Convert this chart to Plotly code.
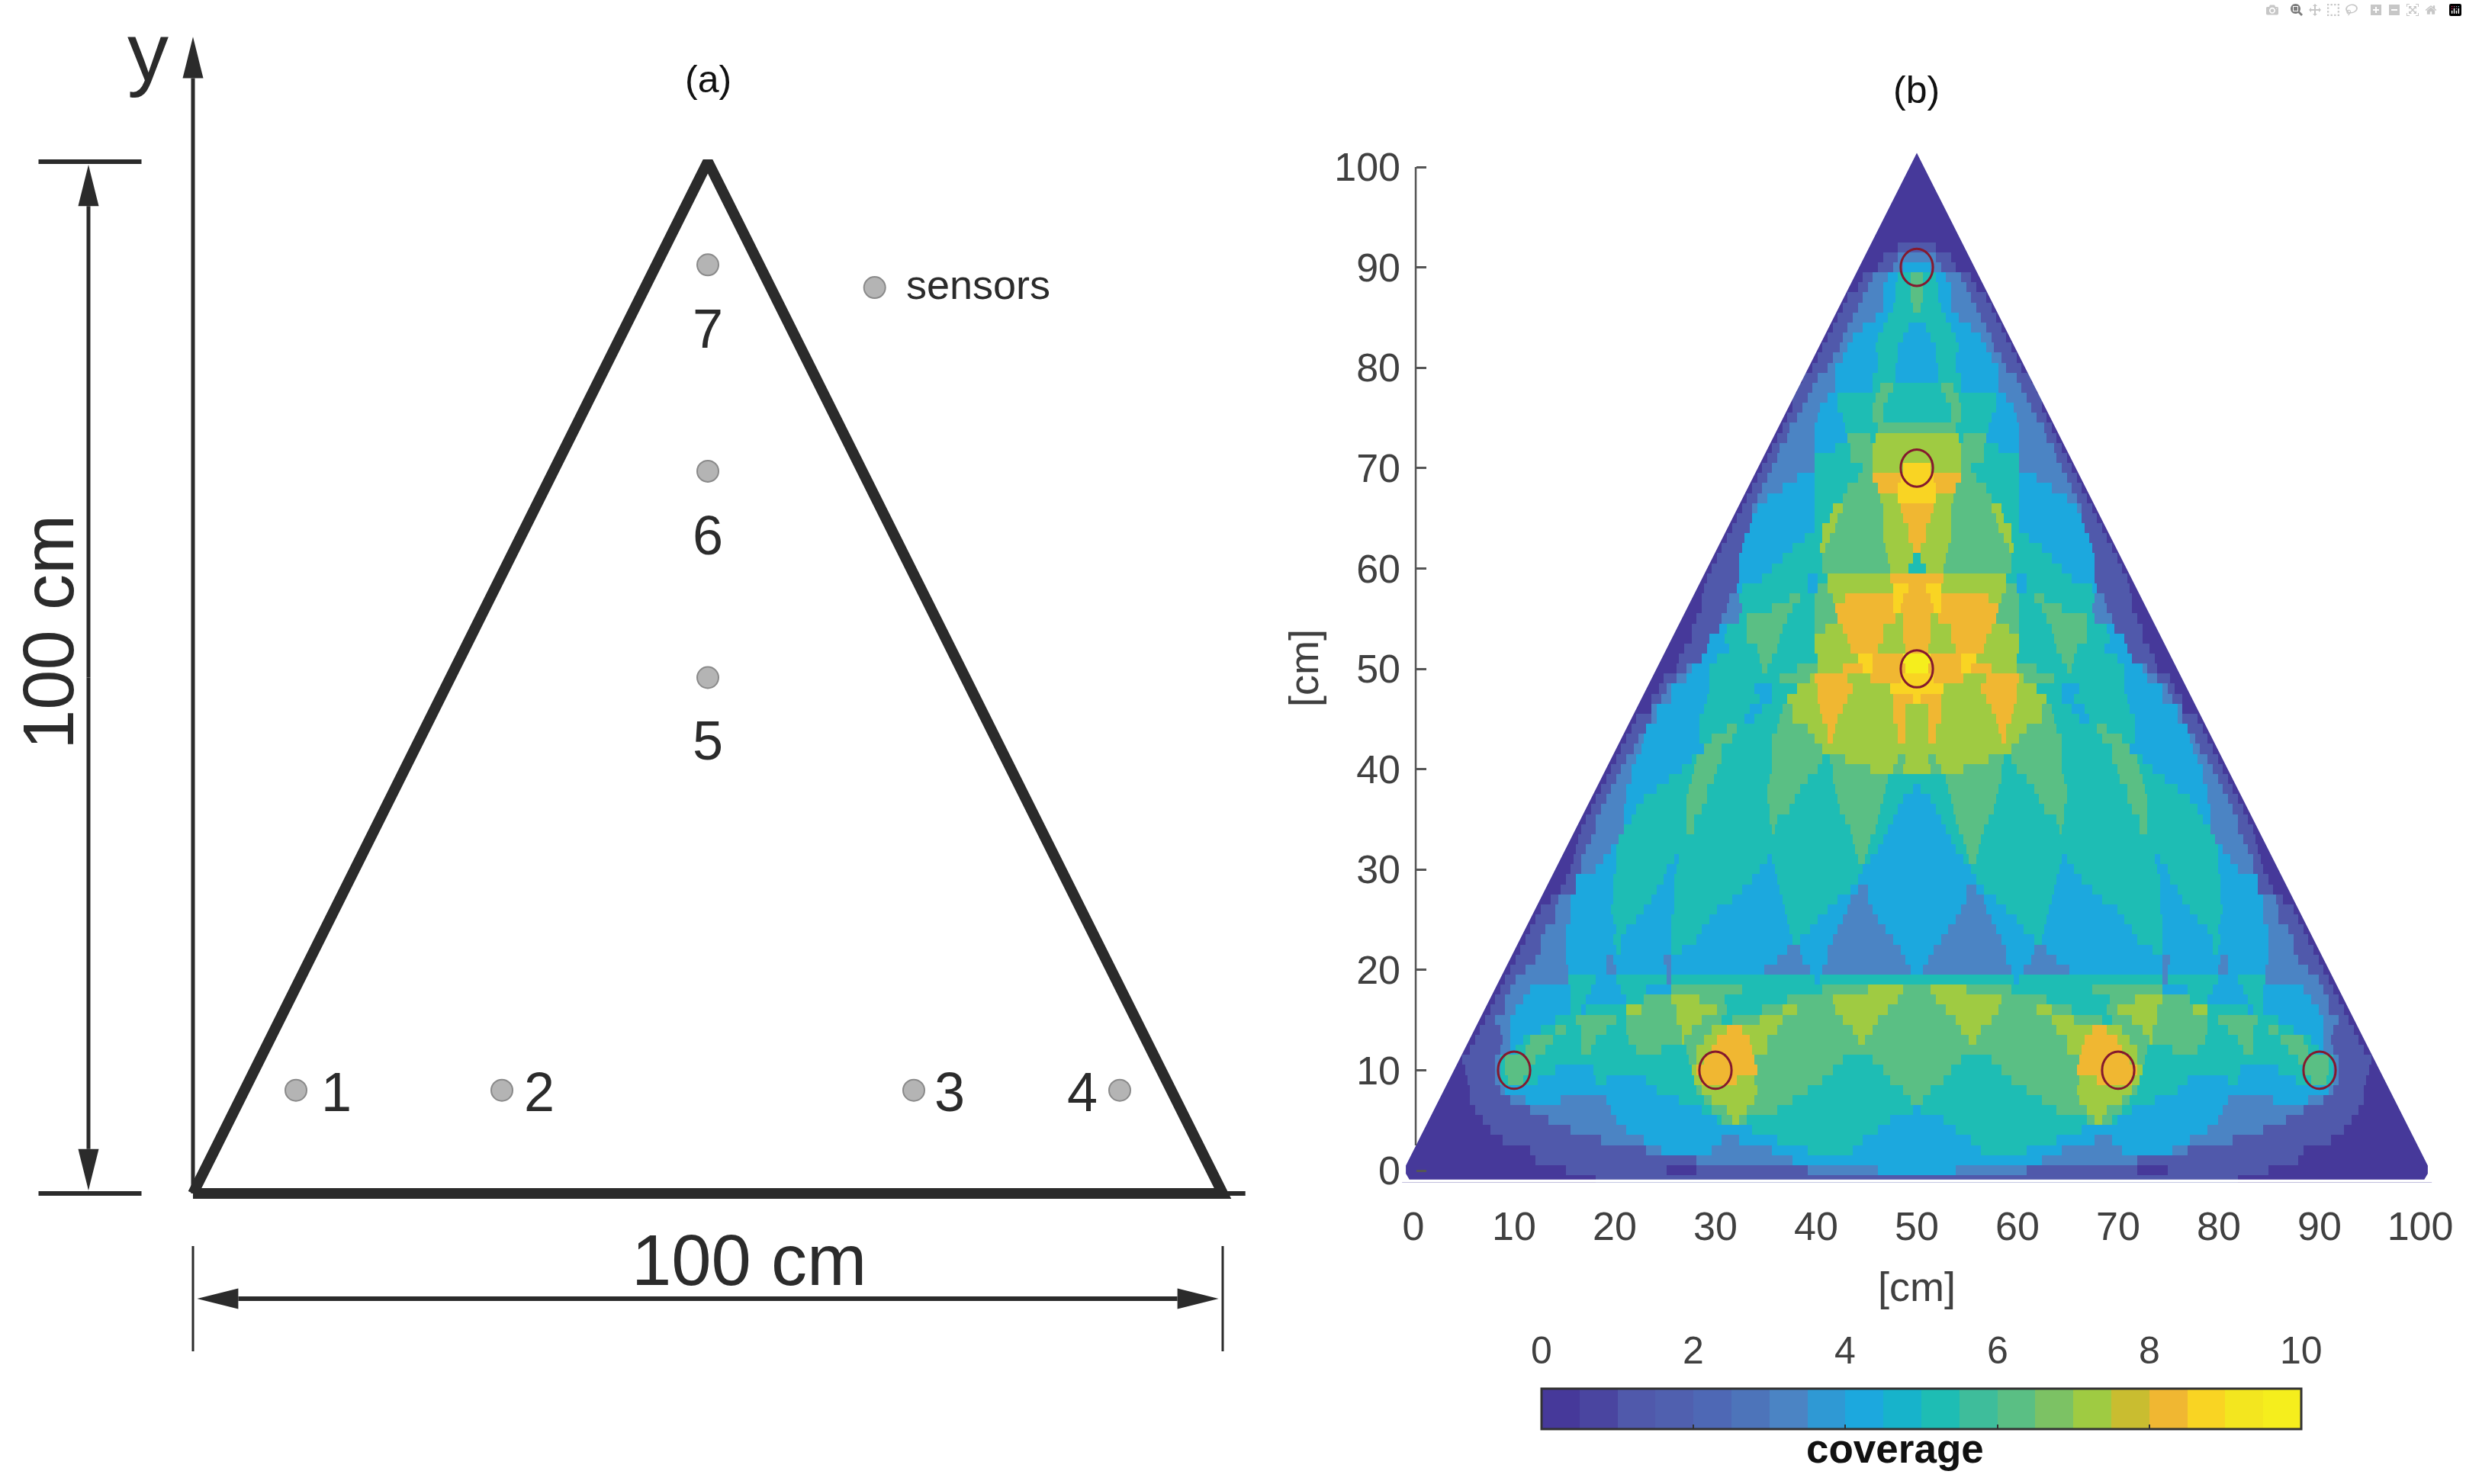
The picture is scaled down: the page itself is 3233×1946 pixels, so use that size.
import plotly.graph_objects as go

W, H = 3233, 1946
SANS = "Liberation Sans, Arial"
INK = "#2b2b2b"

# (a) sensor layout, cm
sensor_x = [10, 30, 70, 90, 50, 50, 50]
sensor_y = [10, 10, 10, 10, 50, 70, 90]
label_x = [13.9, 33.6, 73.5, 86.4, 50, 50, 50]
label_y = [9.8, 9.8, 9.8, 9.8, 43.9, 63.8, 83.8]
label_text = ["1", "2", "3", "4", "5", "6", "7"]
plate_x = [0, 50, 100, 0]
plate_y = [0, 100, 0, 0]

# (b) coverage map for the left half
# (it is mirror symmetric): each row is (x where the run ends, colour band)
cover_y = list(range(-1, 102))
cover_runs = [
    [(18, 0), (50, 1)],
    [(15, 0), (25, 1), (28, 0), (39, 1), (46, 2), (50, 3)],
    [(12, 0), (28, 1), (37.7, 2), (50, 3)],
    [(11.5, 0), (23, 1), (24.5, 2), (29.5, 3), (35.5, 2), (39, 3), (43.5, 4), (50, 3)],
    [(8.8, 0), (18.7, 1), (22.9, 2), (30.5, 3), (32.4, 2), (36.2, 3), (44.5, 4), (50, 3)],
    [(7.5, 0), (15.5, 1), (21, 2), (33.5, 3), (46, 4), (50, 3)],
    [(6.8, 0), (13.4, 1), (20.2, 2), (30, 3), (30.7, 4), (31.5, 5), (32.4, 6), (33, 5), (47.4, 4), (50, 3)],
    [(6, 0), (11.5, 1), (19.5, 2), (28.5, 3), (29.5, 4), (31, 5), (33, 6), (36, 5), (49.5, 4), (50, 3)],
    [(5.7, 0), (9.7, 1), (11, 2), (14.6, 3), (19, 2), (26.3, 3), (28.8, 4), (29.6, 5), (33.8, 6), (37.7, 5), (49.4, 4), (50, 5)],
    [(5.5, 0), (8.5, 1), (9, 2), (24, 3), (28, 4), (28.5, 5), (34, 6), (39, 5), (48.5, 4), (50, 5)],
    [(5.3, 0), (8.2, 1), (8.5, 2), (9.4, 4), (10.9, 5), (12.4, 4), (18.2, 3), (19, 4), (23.2, 3), (27.8, 4), (28.5, 6), (32.1, 7), (33.8, 6), (40.5, 5), (47.4, 4), (50, 5)],
    [(5, 0), (8, 1), (8.5, 2), (9, 4), (11.5, 5), (14, 4), (17.8, 3), (27.5, 4), (28, 6), (34, 7), (41.7, 5), (46.5, 4), (50, 5)],
    [(4.9, 0), (8.1, 1), (8.6, 2), (9, 4), (12.1, 5), (27.3, 4), (28, 5), (28.8, 6), (33.8, 7), (42.6, 5), (45.5, 4), (50, 5)],
    [(5.5, 0), (8.7, 1), (9.7, 2), (10.2, 3), (11, 4), (13, 5), (16.5, 4), (17.5, 5), (22, 4), (24.5, 5), (27, 4), (28, 5), (29.5, 6), (33.5, 7), (35, 6), (50, 5)],
    [(6, 0), (8.8, 1), (9.6, 2), (10.9, 3), (11.6, 4), (13.9, 5), (16.5, 4), (18.2, 5), (21.3, 4), (26.5, 5), (26.8, 6), (28.8, 5), (30, 6), (33.4, 7), (35.2, 6), (44, 5), (44.8, 6), (50, 5)],
    [(6.5, 0), (8.7, 1), (9.5, 2), (12.5, 3), (14, 4), (15, 5), (16.5, 4), (19, 5), (21, 4), (26.5, 5), (27.5, 6), (29.5, 5), (31, 6), (32.5, 7), (36, 6), (43.5, 5), (45.5, 6), (50, 5)],
    [(7, 0), (8, 1), (9.7, 2), (14.2, 3), (16.2, 4), (20.2, 5), (21, 4), (26.2, 5), (28.6, 6), (30.5, 5), (31.5, 4), (34.4, 5), (36.6, 6), (42.5, 5), (46, 6), (50, 5)],
    [(7.5, 0), (9, 1), (10, 2), (15.5, 3), (16.5, 4), (17, 3), (21, 4), (22.5, 6), (26, 5), (30, 6), (31, 5), (34.5, 4), (36.5, 5), (38, 6), (41.8, 5), (47, 6), (50, 5)],
    [(8, 0), (9, 1), (10.9, 2), (15.5, 3), (17, 4), (21.2, 3), (22.8, 4), (25.7, 5), (28.3, 6), (30.9, 5), (37, 4), (41.5, 5), (48, 6), (50, 5)],
    [(8.5, 0), (9.5, 1), (11.5, 2), (15.5, 3), (17.5, 4), (20.5, 3), (23, 4), (25.5, 3), (32.5, 5), (40.5, 4), (45, 5), (48.5, 6), (50, 5)],
    [(9, 0), (10, 1), (15.3, 2), (18.2, 4), (20.1, 3), (25, 4), (25.7, 2), (39.8, 4), (40.3, 3), (50, 4)],
    [(9.5, 0), (11, 1), (15.3, 2), (19, 3), (20, 2), (25, 3), (25.7, 2), (34.9, 3), (39.3, 2), (40.5, 3), (49.3, 2), (50, 3)],
    [(10, 0), (12, 1), (15.2, 2), (19.2, 3), (19.8, 2), (24.8, 3), (25.7, 2), (36, 3), (38.7, 2), (41, 3), (48.8, 2), (50, 3)],
    [(10.5, 0), (12.5, 1), (15.2, 2), (20, 3), (20.5, 4), (25.5, 3), (26.5, 4), (37.2, 3), (38.3, 2), (41.2, 3), (48.3, 2), (50, 3)],
    [(11, 0), (12.5, 1), (15.2, 2), (19.8, 3), (20.7, 4), (25.5, 3), (28, 4), (37.6, 3), (38.3, 4), (41.7, 3), (47.7, 2), (50, 3)],
    [(11.5, 0), (13, 1), (15.2, 2), (20, 3), (21, 4), (25.7, 3), (28.7, 4), (37.3, 3), (39.4, 4), (42, 3), (46.8, 2), (50, 3)],
    [(12, 0), (14, 1), (15.5, 2), (19.8, 3), (22.1, 4), (25.7, 3), (29.4, 4), (37, 3), (40.1, 4), (42.6, 3), (46.2, 2), (50, 3)],
    [(12.5, 0), (14, 1), (15.5, 2), (19.7, 3), (22.9, 4), (25.8, 3), (30.2, 4), (36.8, 3), (41.2, 4), (43, 3), (45.6, 2), (50, 3)],
    [(13.5, 0), (14.4, 1), (15.7, 2), (19.8, 3), (23.7, 4), (25.8, 3), (31.5, 4), (36.5, 3), (42.2, 4), (43.4, 3), (45.1, 2), (50, 3)],
    [(14.5, 0), (16, 1), (19.9, 3), (24.2, 4), (25.9, 3), (32.6, 4), (36.4, 3), (43.3, 4), (44, 3), (45, 2), (50, 3)],
    [(15, 0), (16.2, 1), (19.9, 3), (24.9, 4), (25.9, 3), (33.5, 4), (36.1, 3), (44.2, 4), (50, 3)],
    [(15.5, 0), (16.6, 1), (18, 2), (20, 3), (25.1, 4), (26, 3), (34.4, 4), (35.8, 3), (44.6, 4), (50, 3)],
    [(15.8, 0), (16.5, 1), (18.9, 2), (20.2, 3), (25.8, 4), (26.3, 3), (35, 4), (35.6, 3), (44.2, 4), (44.8, 5), (45.4, 4), (50, 3)],
    [(16, 0), (17, 1), (19.6, 2), (20.2, 3), (43.8, 4), (45.2, 5), (46, 4), (50, 3)],
    [(16.3, 0), (17.5, 1), (20.4, 2), (43.6, 4), (45.4, 5), (46.7, 4), (50, 3)],
    [(16.5, 0), (18, 1), (20.8, 2), (27.2, 4), (27.8, 5), (35.5, 4), (35.8, 5), (43.3, 4), (45.9, 5), (47.2, 4), (50, 3)],
    [(17, 0), (18.2, 1), (20.8, 2), (21.6, 3), (27, 4), (27.9, 5), (35.3, 4), (36.2, 5), (42.9, 4), (46.2, 5), (47.6, 4), (50, 3)],
    [(17.5, 0), (18.5, 1), (20.8, 2), (22.1, 3), (27.1, 4), (28.7, 5), (35.3, 4), (37.3, 5), (42.4, 4), (46.4, 5), (48, 4), (50, 3)],
    [(18, 0), (19, 1), (21.1, 2), (22.9, 3), (27.2, 4), (29, 5), (35.2, 4), (37.8, 5), (42.1, 4), (46.7, 5), (48.5, 4), (50, 3)],
    [(18.5, 0), (19.5, 1), (21.2, 2), (24, 3), (27.4, 4), (29.2, 5), (35.2, 4), (38.3, 5), (41.8, 4), (46.9, 5), (49.5, 4), (50, 3)],
    [(19, 0), (20, 1), (21.5, 2), (25.3, 3), (27.6, 4), (29.8, 5), (35.3, 4), (39.1, 5), (41.6, 4), (47.2, 5), (50, 4)],
    [(19.5, 0), (20.6, 1), (21.7, 2), (26.6, 3), (27.9, 4), (30.2, 5), (35.6, 4), (40.1, 5), (41.6, 4), (45.4, 5), (47.6, 6), (48.5, 5), (50, 6)],
    [(20, 0), (21.2, 1), (22.1, 2), (27.6, 3), (28.1, 4), (30.5, 5), (35.6, 4), (40.5, 5), (41.3, 4), (42.8, 5), (48, 6), (48.8, 5), (50, 6)],
    [(20.5, 0), (21.9, 1), (22.5, 2), (28.8, 3), (30.7, 5), (35.7, 4), (40.7, 5), (50, 6)],
    [(21, 0), (22.4, 1), (22.8, 2), (28.3, 3), (29.7, 4), (31.7, 5), (35.7, 4), (39.9, 5), (41, 6), (41.6, 7), (48.2, 6), (48.8, 7), (50, 6)],
    [(21.5, 0), (23, 1), (28.3, 3), (31, 4), (32.2, 5), (36, 4), (39.1, 5), (41, 6), (41.8, 7), (48, 6), (48.8, 7), (50, 6)],
    [(22, 0), (23.5, 1), (24, 2), (28.4, 3), (32.8, 4), (33.8, 3), (36.3, 4), (37.7, 5), (40.7, 6), (42.2, 7), (47.7, 6), (48.8, 7), (50, 6)],
    [(23.5, 0), (24.2, 2), (28.8, 3), (33.4, 4), (34.7, 3), (36.6, 4), (37.7, 5), (40.4, 6), (42.6, 7), (47.5, 6), (48.8, 7), (50, 6)],
    [(23.5, 0), (24.7, 1), (25.5, 2), (29, 3), (34.3, 4), (35.7, 3), (37, 4), (40.2, 6), (43, 7), (47.5, 6), (49.6, 7), (50, 8)],
    [(24.3, 0), (25, 1), (25.5, 2), (29.3, 3), (33.9, 4), (35.7, 3), (38, 4), (40, 6), (43.6, 7), (47.3, 6), (50, 8)],
    [(24.8, 0), (26, 1), (27, 2), (29.3, 3), (36.4, 4), (39.3, 5), (39.8, 6), (43.2, 7), (45.3, 6), (48.3, 7), (50, 8)],
    [(26, 0), (27, 1), (27.5, 2), (29.4, 3), (34.6, 4), (35.1, 5), (38, 4), (40, 5), (42.5, 6), (44.6, 7), (45.5, 8), (48.8, 7), (50, 9)],
    [(26.4, 0), (28.5, 1), (30, 3), (34.3, 4), (35.5, 5), (40, 4), (44, 6), (45.6, 8), (48.5, 7), (50, 9)],
    [(26.8, 0), (29, 1), (31.3, 3), (34.1, 4), (36.1, 5), (39.9, 4), (43.3, 6), (46.1, 7), (48.9, 6), (50, 7)],
    [(27.5, 0), (29.4, 1), (30.8, 3), (33.1, 4), (36.4, 5), (39.9, 4), (43, 6), (46.6, 7), (48.6, 6), (50, 7)],
    [(27.5, 0), (30.3, 1), (31, 3), (33, 4), (36.6, 5), (39.9, 4), (40.9, 5), (42.7, 6), (46.7, 7), (48.5, 6), (50, 7)],
    [(28, 0), (30.7, 1), (32.4, 2), (33.1, 4), (37, 5), (39.9, 4), (42.2, 5), (47.9, 7), (48.5, 6), (50, 7)],
    [(28.5, 0), (31.2, 1), (32.6, 2), (35.5, 4), (37.6, 5), (39.9, 4), (41.9, 5), (47.7, 7), (48.3, 8), (50, 7)],
    [(28.5, 0), (31.3, 1), (32.3, 2), (37.4, 4), (38.4, 5), (39.8, 4), (41.5, 5), (42.9, 6), (47.7, 7), (48.6, 8), (50, 7)],
    [(28.8, 0), (32, 1), (32.6, 3), (39, 4), (40, 3), (41.2, 5), (47.7, 6), (49, 8), (50, 7)],
    [(29, 0), (32.3, 1), (34.6, 3), (39.1, 4), (40.1, 3), (41.2, 4), (47.3, 6), (50, 7)],
    [(29.5, 0), (32.3, 1), (35.6, 3), (40.7, 4), (47.4, 5), (49.2, 6), (50, 4)],
    [(30, 0), (32.4, 1), (36.6, 3), (40.5, 4), (47.1, 5), (49.6, 6), (50, 4)],
    [(30.5, 0), (32.6, 1), (37.6, 3), (40.4, 4), (40.9, 6), (46.8, 5), (49.7, 6), (50, 7)],
    [(31, 0), (32.8, 1), (38.9, 3), (40.5, 4), (41.3, 6), (46.7, 5), (49.2, 6), (50, 7)],
    [(31.5, 0), (33.3, 1), (39.9, 3), (40.6, 4), (41.9, 6), (46.6, 5), (49, 6), (50, 7)],
    [(32, 0), (33.7, 1), (39.9, 3), (41.3, 4), (42, 6), (46.6, 5), (48.6, 6), (50, 7)],
    [(32.5, 0), (33.5, 1), (34, 2), (39.8, 3), (41.5, 4), (42.5, 6), (46.5, 5), (48.4, 6), (50, 7)],
    [(33, 0), (34, 1), (35.2, 2), (39.8, 3), (42.6, 4), (46.3, 5), (48.2, 6), (50, 8)],
    [(33.5, 0), (34.6, 1), (36.6, 2), (39.8, 3), (43, 4), (46.2, 5), (48.1, 7), (50, 8)],
    [(34, 0), (35, 1), (38.1, 2), (39.8, 3), (44.2, 4), (45.6, 5), (48.4, 7), (50, 8)],
    [(34.5, 0), (35.5, 1), (39.8, 2), (44.5, 4), (45.7, 5), (48.5, 6), (50, 8)],
    [(35, 0), (36, 1), (39.8, 2), (43.4, 4), (45.7, 5), (50, 6)],
    [(35.5, 0), (36.4, 1), (39.8, 2), (41.9, 3), (43.4, 4), (45.6, 5), (50, 6)],
    [(36, 0), (37, 1), (39.8, 2), (43, 3), (45.3, 5), (45.9, 4), (50, 6)],
    [(36.5, 0), (37.4, 1), (39.9, 2), (42.8, 3), (46, 4), (50, 5)],
    [(37, 0), (38, 1), (40, 2), (42.5, 3), (45.6, 4), (46.5, 5), (50, 4)],
    [(37.5, 0), (38.6, 1), (40.4, 2), (42.2, 3), (45.5, 4), (46.7, 5), (50, 4)],
    [(37.5, 0), (39, 1), (41, 2), (42, 3), (45.9, 4), (47.2, 5), (50, 4)],
    [(38, 0), (39.5, 1), (41.8, 2), (45.5, 3), (46.3, 4), (47.5, 5), (50, 4)],
    [(38.7, 0), (40.2, 1), (41.8, 2), (45.5, 3), (47.9, 4), (50, 3)],
    [(39.5, 0), (41, 1), (41.8, 2), (46, 3), (47.9, 4), (50, 3)],
    [(40, 0), (41.5, 1), (42.5, 2), (46, 3), (48, 4), (50, 3)],
    [(40.5, 0), (42.3, 1), (43, 2), (45.9, 3), (48.2, 4), (50, 3)],
    [(41, 0), (42.7, 1), (43.7, 2), (46, 3), (48.7, 4), (50, 3)],
    [(41.5, 0), (43, 1), (44.5, 2), (46.6, 3), (49, 4), (50, 3)],
    [(42, 0), (43.7, 1), (45.8, 2), (47, 3), (50, 4)],
    [(42.5, 0), (44.2, 1), (46.6, 2), (47.5, 3), (49.5, 4), (50, 5)],
    [(43, 0), (44.7, 1), (46.6, 2), (47.8, 3), (49.4, 4), (50, 5)],
    [(44, 0), (45.2, 1), (46.6, 2), (47.9, 3), (49.3, 4), (50, 5)],
    [(44.5, 0), (45.7, 1), (47, 2), (48.2, 3), (49.3, 4), (50, 5)],
    [(46.2, 0), (47.6, 1), (48.6, 2), (50, 3)],
    [(46.7, 0), (48.2, 1), (50, 2)],
    [(48, 0), (50, 1)],
    [(50, 0)], [(50, 0)], [(50, 0)], [(50, 0)], [(50, 0)],
    [(50, 0)], [(50, 0)], [(50, 0)], [(50, 0)],
]
# coverage value of each colour band
band_value = [0, 1, 3, 4, 5, 6, 7, 8.2, 8.7, 9.5]
# stepped colour bar, one colour every half unit
bar_colors = ["#46399A", "#4A45A0", "#5059AB", "#5060AF", "#4E68B5", "#4D74BA", "#4B84C4",
              "#2F99D4", "#1CA8DE", "#17B3CB", "#1EBDB4", "#3EBD9B", "#5ABF84", "#7CC264",
              "#9FCB42", "#C9BD30", "#F0B732", "#F9D423", "#F3E61F", "#F5EE1D"]
bar_ticks = [0, 2, 4, 6, 8, 10]
# outline of the covered area in (b)
edge_x = [-0.4, 100.4, 100.75, 100.75, 50, -0.75, -0.75, -0.4]
edge_y = [-0.9, -0.9, -0.3, 0.5, 101.4, 0.5, -0.3, -0.9]


def expand(runs, xs):
    out = []
    for x in xs:
        for end, band in runs:
            if x <= end:
                out.append(band_value[band])
                break
    return out


half_x = [i / 4 for i in range(-4, 201)]
cols_x = half_x + [100 - x for x in reversed(half_x[:-1])]
z = []
for runs in cover_runs:
    left = expand(runs, half_x)
    z.append(left + left[-2::-1])

scale = []
n = len(bar_colors)
for i, c in enumerate(bar_colors):
    scale += [[i / n, c], [(i + 1) / n, c]]

# pixel placement of (b): 13.2 px/cm across, 13.16 px/cm down
xr = [-1.5, 101.5]
yr = [-1.2, 101.6]
x_dom = [(1853 + 13.2 * xr[0]) / W, (1853 + 13.2 * xr[1]) / W]
y_dom = [(1946 - 1535 + 13.16 * yr[0]) / H, (1946 - 1535 + 13.16 * yr[1]) / H]

fig = go.Figure()
fig.add_trace(go.Heatmap(
    x=cols_x, y=cover_y, z=z, zmin=0, zmax=10, colorscale=scale, hoverinfo="skip",
    colorbar=dict(
        orientation="h", x=2519 / W, xanchor="center", y=(1946 - 1884) / H, yanchor="bottom",
        lenmode="pixels", len=996, thicknessmode="pixels", thickness=53, xpad=0, ypad=0,
        outlinecolor="#333333", outlinewidth=3,
        tickvals=bar_ticks, ticks="inside", ticklen=7, tickcolor="#333333", tickwidth=2,
        showticklabels=False,
    ),
))

# white mask trims the cells to the sloped edge of the plate
mask_x = [xr[0], xr[0], xr[1], xr[1], xr[0]] + edge_x + [xr[0]]
mask_y = [yr[0], yr[1], yr[1], yr[0], yr[0]] + edge_y + [yr[0]]
fig.add_trace(go.Scatter(x=mask_x, y=mask_y, mode="lines", fill="toself", fillcolor="white",
                         line=dict(width=0), hoverinfo="skip", showlegend=False))
fig.add_trace(go.Scatter(x=[0.23, 0.23], y=[2.5, 100], mode="lines", line=dict(color="#555555", width=2.5),
                         hoverinfo="skip", showlegend=False))

for sx, sy in zip(sensor_x, sensor_y):
    fig.add_shape(type="circle", xref="x", yref="y", x0=sx - 1.6, x1=sx + 1.6, y0=sy - 1.85, y1=sy + 1.85,
                  line=dict(color="#84192E", width=3))


def left_line(xs, ys, width, color=INK):
    fig.add_trace(go.Scatter(x=xs, y=ys, mode="lines", xaxis="x2", yaxis="y2", hoverinfo="skip",
                             line=dict(color=color, width=width), showlegend=False))


def arrow(x0, y0, x1, y1, width, head_len=4, head_w=2):
    # shaft from (x0, y0), filled head with its tip on (x1, y1)
    d = ((x1 - x0) ** 2 + (y1 - y0) ** 2) ** 0.5
    ux, uy = (x1 - x0) / d, (y1 - y0) / d
    bx, by = x1 - ux * head_len, y1 - uy * head_len
    left_line([x0, bx], [y0, by], width)
    fig.add_trace(go.Scatter(
        x=[x1, bx - uy * head_w / 2, bx + uy * head_w / 2, x1],
        y=[y1, by + ux * head_w / 2, by - ux * head_w / 2, y1],
        mode="lines", fill="toself", fillcolor=INK, line=dict(width=0, color=INK),
        xaxis="x2", yaxis="y2", hoverinfo="skip", showlegend=False))


# (a) schematic
left_line(plate_x, plate_y, 14)
left_line([100, 102.2], [0, 0], 6)
arrow(0, 0, 0, 112.1, 5)
left_line([-15, -5], [100, 100], 6)
left_line([-15, -5], [0, 0], 6)
arrow(-10.15, 50, -10.15, 99.7, 5)
arrow(-10.15, 50, -10.15, 0.3, 5)
left_line([0, 0], [-5.1, -15.3], 3)
left_line([100, 100], [-5.1, -15.3], 3)
arrow(50, -10.2, 0.4, -10.2, 6)
arrow(50, -10.2, 99.6, -10.2, 6)
fig.add_trace(go.Scatter(x=sensor_x + [66.2], y=sensor_y + [87.8], mode="markers", xaxis="x2", yaxis="y2",
                         marker=dict(size=28, color="#B4B4B4", line=dict(color="#8A8A8A", width=2)),
                         hoverinfo="skip", showlegend=False))


def note(text, x, y, size, family=SANS, angle=0, anchor="center", color=INK):
    fig.add_annotation(text=text, x=x, y=y, xref="x2", yref="y2", showarrow=False, textangle=angle,
                       xanchor=anchor, yanchor="middle", font=dict(family=family, size=size, color=color))


def page_note(text, px, py, size, family=SANS, angle=0, color="#404040"):
    # placed in page pixels: these sit outside the axis ranges of (b)
    fig.add_annotation(text=text, x=px / W, y=1 - py / H, xref="paper", yref="paper", showarrow=False,
                       textangle=angle, xanchor="center", yanchor="middle",
                       font=dict(family=family, size=size, color=color))


for t, lx, ly in zip(label_text, label_x, label_y):
    note(t, lx, ly, 72)
note("sensors", 69.1, 88.1, 54, anchor="left")
note("100 cm", 54, -6.5, 94)
note("100 cm", -14, 54.4, 94, angle=-90)
note("y", -4.4, 110.6, 108)
note("(a)", 50, 108, 50, color="#111111")

page_note("(b)", 2512, 118, 50, color="#111111")
page_note("[cm]", 2513, 1687, 54)
page_note("[cm]", 1709, 876, 54, angle=-90)
page_note("<b>coverage</b>", 2484, 1899, 53, color="#111111")
for t in bar_ticks:
    page_note(str(t), 2021 + t * 99.6, 1771, 50)

fig.update_layout(
    width=W, height=H, margin=dict(l=0, r=0, t=0, b=0, autoexpand=False),
    paper_bgcolor="white", plot_bgcolor="rgba(0,0,0,0)",
    showlegend=False,
    xaxis=dict(domain=x_dom, range=xr, tickvals=list(range(0, 101, 10)), showgrid=False, zeroline=False,
               showline=False, ticks="", ticklabelstandoff=22,
               tickfont=dict(family=SANS, size=52, color="#404040")),
    yaxis=dict(domain=y_dom, range=yr, anchor="free", position=1856 / W, tickvals=list(range(0, 101, 10)),
               showgrid=False, zeroline=False, showline=False, ticks="inside", ticklen=13, tickwidth=2.5,
               tickcolor="#555555", ticklabelstandoff=20,
               tickfont=dict(family=SANS, size=52, color="#404040")),
    xaxis2=dict(domain=[0, 1], range=[-253 / 13.5, (W - 253) / 13.5], visible=False, anchor="y2"),
    yaxis2=dict(domain=[0, 1], range=[(1565 - H) / 13.53, 1565 / 13.53], visible=False, anchor="x2"),
)

fig.write_html("out.html", post_script="document.body.style.margin='0';")
